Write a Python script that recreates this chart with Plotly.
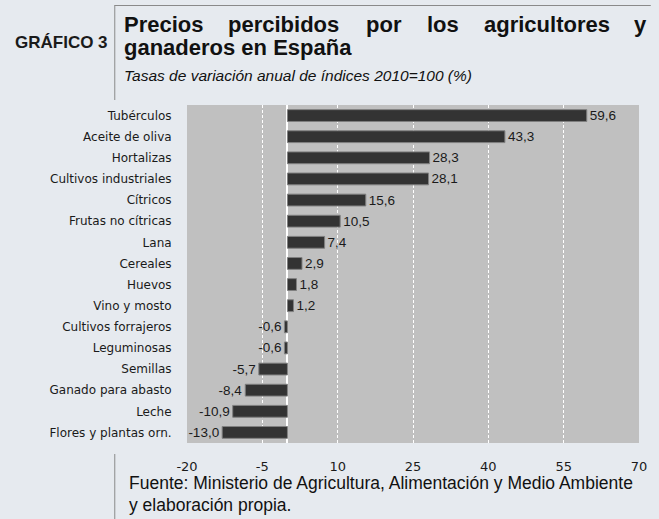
import plotly.graph_objects as go

categories = ["Tubérculos", "Aceite de oliva", "Hortalizas", "Cultivos industriales",
              "Cítricos", "Frutas no cítricas", "Lana", "Cereales", "Huevos",
              "Vino y mosto", "Cultivos forrajeros", "Leguminosas", "Semillas",
              "Ganado para abasto", "Leche", "Flores y plantas orn."]
values = [59.6, 43.3, 28.3, 28.1, 15.6, 10.5, 7.4, 2.9, 1.8, 1.2,
          -0.6, -0.6, -5.7, -8.4, -10.9, -13.0]
x_ticks = [-20, -5, 10, 25, 40, 55, 70]

W, H = 659, 519
L, R, T, B = 187, 12, 105, 76
PW, PH = W - L - R, H - T - B

def px(x):
    return (x - L) / PW

def py(y):
    return (H - B - y) / PH

labels = [f"{v:.1f}".replace(".", ",") for v in values]

fig = go.Figure(go.Bar(
    x=values, y=categories, orientation="h",
    marker=dict(color="#333333", line=dict(color="#808080", width=1)),
    width=0.56,
    text=labels, textposition="outside", cliponaxis=False,
    constraintext="none",
    textfont=dict(family="Arial, Liberation Sans", size=13.5, color="#1a1a1a"),
))

BG = "#e6eaef"
fig.update_layout(
    width=W, height=H, autosize=False,
    margin=dict(l=L, r=R, t=T, b=B, pad=0),
    paper_bgcolor=BG, plot_bgcolor="#c0c0c0",
    showlegend=False,
    xaxis=dict(range=[-20, 70], tickvals=x_ticks, ticktext=[str(t) for t in x_ticks],
               showgrid=True, gridcolor="white", griddash="3px,2px", gridwidth=1,
               zeroline=True, zerolinecolor="white", zerolinewidth=2,
               ticks="outside", ticklen=11, tickcolor="rgba(0,0,0,0)",
               tickfont=dict(family="DejaVu Sans", size=13, color="#1a1a1a"),
               showline=False, fixedrange=True),
    yaxis=dict(categoryorder="array", categoryarray=categories, autorange="reversed",
               ticks="outside", ticklen=12, tickcolor="rgba(0,0,0,0)",
               tickfont=dict(family="DejaVu Sans", size=12, color="#1a1a1a"),
               showgrid=False, showline=False, fixedrange=True),
)

ann = []
ann.append(dict(text="<b>GRÁFICO 3</b>", x=px(10), y=py(42), xref="paper", yref="paper",
                xanchor="left", yanchor="middle", showarrow=False,
                font=dict(family="Arial, Liberation Sans", size=17, color="#1a1a1a")))
words = [("Precios", 121), ("percibidos", 227), ("por", 367), ("los", 429),
         ("agricultores", 487), ("y", 640)]
for w, xpos in words:
    ann.append(dict(text=f"<b>{w}</b>", x=px(xpos), y=py(25), xref="paper", yref="paper",
                    xanchor="left", yanchor="middle", showarrow=False,
                    font=dict(family="Arial, Liberation Sans", size=22, color="#111111")))
ann.append(dict(text="<b>ganaderos en España</b>", x=px(121), y=py(48), xref="paper", yref="paper",
                xanchor="left", yanchor="middle", showarrow=False,
                font=dict(family="Arial, Liberation Sans", size=22, color="#111111")))
ann.append(dict(text="<i>Tasas de variación anual de índices 2010=100 (%)</i>", x=px(121), y=py(76),
                xref="paper", yref="paper", xanchor="left", yanchor="middle", showarrow=False,
                font=dict(family="Arial, Liberation Sans", size=15.5, color="#111111")))
foot_font = dict(family="Arial, Liberation Sans", size=17.5, color="#111111")
ann.append(dict(text="Fuente: Ministerio de Agricultura, Alimentación y Medio Ambiente",
                x=px(126), y=py(483), xref="paper", yref="paper", xanchor="left", yanchor="middle",
                showarrow=False, font=foot_font))
ann.append(dict(text="y elaboración propia.",
                x=px(126), y=py(505), xref="paper", yref="paper", xanchor="left", yanchor="middle",
                showarrow=False, font=foot_font))
fig.update_layout(annotations=ann)

line = dict(color="#8a8a8a", width=1)
fig.update_layout(shapes=[
    dict(type="line", xref="paper", yref="paper", x0=px(113.5), x1=px(113.5), y0=py(5), y1=py(100), line=line),
    dict(type="line", xref="paper", yref="paper", x0=px(113.5), x1=px(W), y0=py(5.5), y1=py(5.5), line=line),
    dict(type="line", xref="paper", yref="paper", x0=px(113.5), x1=px(113.5), y0=py(454), y1=py(H), line=line),
])

fig.write_html("out.html", config={"displayModeBar": False},
               post_script="document.body.style.margin='0';document.body.style.background='" + BG + "';")
